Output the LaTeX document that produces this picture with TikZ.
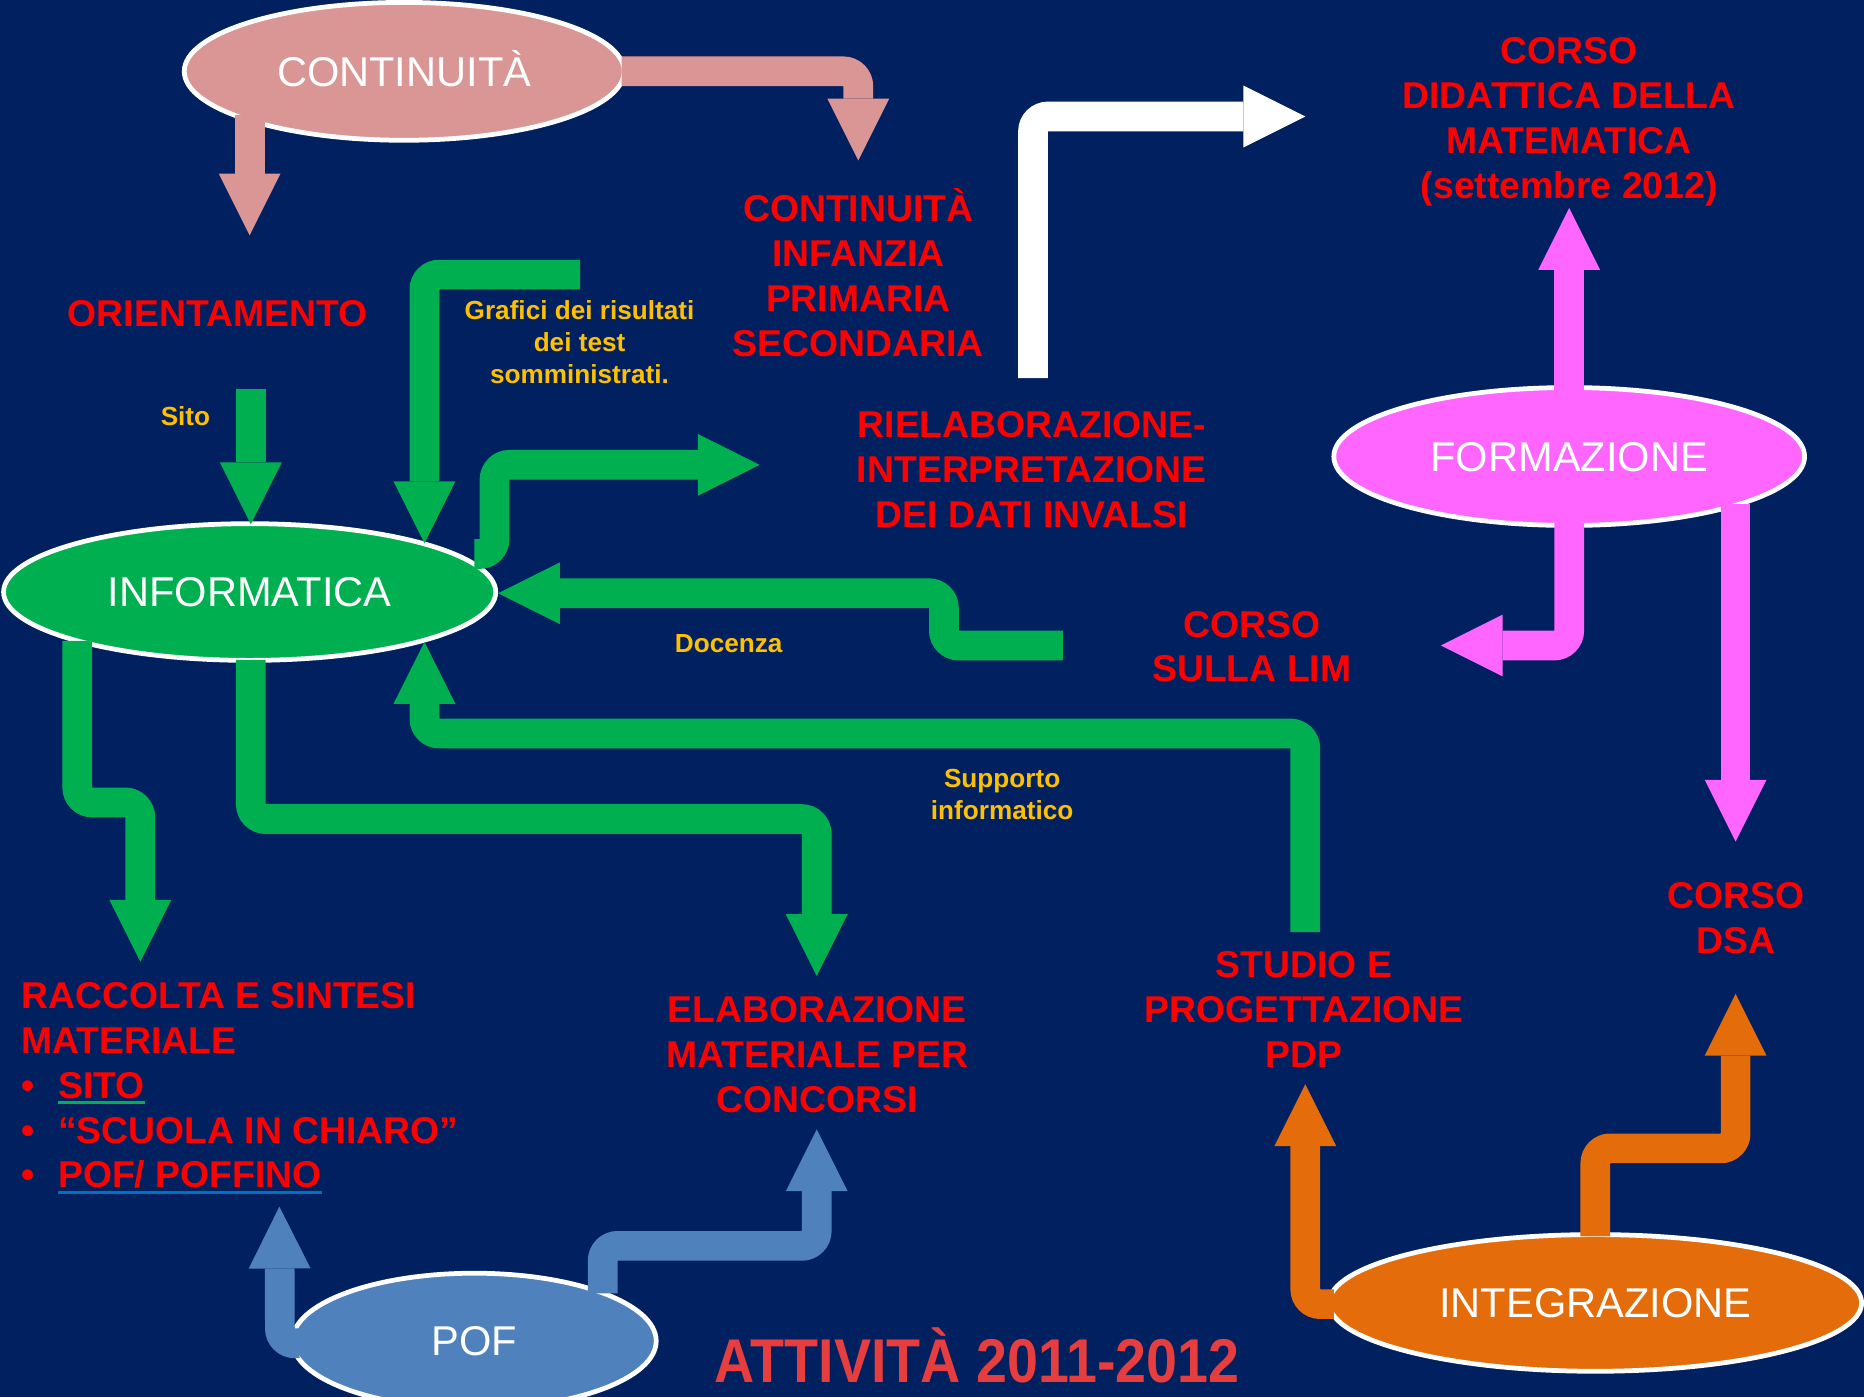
\documentclass[tikz,border=0pt]{standalone}
\usepackage{fontspec}
\setmainfont{Liberation Sans}
\usetikzlibrary{arrows.meta,shapes.geometric}
\definecolor{bg}{RGB}{0,32,96}
\definecolor{tred}{RGB}{255,0,0}
\definecolor{tyel}{RGB}{255,192,0}
\definecolor{cgreen}{RGB}{0,176,80}
\definecolor{cpink}{RGB}{217,150,148}
\definecolor{cmag}{RGB}{255,102,255}
\definecolor{cblue}{RGB}{79,129,189}
\definecolor{corange}{RGB}{228,108,10}
\definecolor{culblue}{RGB}{0,112,192}
\definecolor{ttlred}{RGB}{230,62,62}
\newcommand\myul[2]{\setbox0\hbox{#2}\rlap{\color{#1}\rule[-2.6pt]{\wd0}{1.5pt}}\box0}
\newcommand\mybullet{\makebox[15.5pt][l]{\hspace{0.3pt}\textbullet}}
\begin{document}
\begin{tikzpicture}[x=0.5pt,y=-0.5pt,
  >={Triangle[width=26pt,length=26pt,line width=0pt]},
  redtxt/.style={text=tred, font=\fontsize{15.7}{18.85}\selectfont\bfseries, align=center, inner sep=0pt},
  yeltxt/.style={text=tyel, font=\fontsize{11}{13.5}\selectfont\bfseries, align=center, inner sep=0pt},
  oval/.style={ellipse, draw=white, line width=2pt, inner sep=0pt, text=white, text height=12.5pt, text depth=0pt, font=\fontsize{17.5}{21}\selectfont},
  band/.style={line width=12.5pt, rounded corners=6.25pt, ->},
]
\useasboundingbox (0,0) rectangle (1568,1175);
\fill[bg] (0,0) rectangle (1568,1175);
\clip (0,0) rectangle (1568,1175);

% ellipses
\node[oval, fill=cpink, minimum width=185pt, minimum height=58pt] (cont) at (340,60) {CONTINUITÀ};
\node[oval, fill=cmag, minimum width=198pt, minimum height=58pt] (form) at (1320,384) {FORMAZIONE};
\node[oval, fill=cgreen, minimum width=207pt, minimum height=57.5pt] (info) at (210,498) {INFORMATICA};
\node[oval, fill=cblue, minimum width=153pt, minimum height=57pt] (pof) at (399,1128) {POF};
\node[oval, fill=corange, minimum width=224pt, minimum height=57.5pt] (integ) at (1342,1096) {INTEGRAZIONE};

% red texts
\node[redtxt] (orient) at (183,264) {ORIENTAMENTO};
\node[redtxt] (conti) at (722,229.5) {CONTINUITÀ\\INFANZIA\\PRIMARIA\\SECONDARIA};
\node[redtxt] (rielab) at (868,395) {RIELABORAZIONE-\\INTERPRETAZIONE\\DEI DATI INVALSI};
\node[redtxt] (didmat) at (1320,102.5) {CORSO\\DIDATTICA DELLA\\MATEMATICA\\(settembre 2012)};
\node[redtxt] (lim) at (1053,544) {CORSO\\SULLA LIM};
\node[redtxt] (dsa) at (1460,772) {CORSO\\DSA};
\node[redtxt] (pdp) at (1097,849) {STUDIO E\\PROGETTAZIONE\\PDP};
\node[redtxt] (elab) at (687.5,887) {ELABORAZIONE\\MATERIALE PER\\CONCORSI};
\node[redtxt, align=left, anchor=west] (racc) at (17.5,915.5) {RACCOLTA E SINTESI\\MATERIALE\\\mybullet\myul{cgreen}{SITO}\\\mybullet“SCUOLA IN CHIARO”\\\mybullet\myul{culblue}{POF/ POFFINO}};

% yellow labels
\node[yeltxt] (sito) at (156,350) {Sito};
\node[yeltxt] (grafici) at (487.5,287.5) {Grafici dei risultati\\dei test\\somministrati.};
\node[yeltxt] (docenza) at (613,541) {Docenza};
\node[yeltxt] (supporto) at (843,668) {Supporto\\informatico};

% title
\node[text=ttlred, font=\fontsize{26}{30}\selectfont\bfseries] (title) at (822,1140) {\scalebox{0.9}[1]{ATTIVITÀ 2011-2012}};

% arrow end points
\coordinate (tOrient) at (210,198);
\coordinate (tConti) at (722,135);
\coordinate (tInfoTop) at (211,441);
\coordinate (tGraf) at (357,457);
\coordinate (tRielab) at (639,391);
\coordinate (tDoc) at (419,499);
\coordinate (tSupp) at (357,540);
\coordinate (tRacc) at (118,809);
\coordinate (tElab) at (687,821);
\coordinate (tDid) at (1098,98);
\coordinate (tForm) at (1320,175);
\coordinate (tLim) at (1212,543);
\coordinate (tDsa) at (1460,708);
\coordinate (tPofL) at (235,1015);
\coordinate (tPofR) at (687,950);
\coordinate (tPdp) at (1098,912);
\coordinate (tDsa2) at (1460,836);

% pink arrows
\draw[band, cpink] (210,97) -- (tOrient);
\draw[band, cpink] (523,60) -- (722,60) -- (tConti);

% green arrows
\draw[band, cgreen] (211,327) -- (tInfoTop);
\draw[band, cgreen] (488,231) -- (357,231) -- (tGraf);
\draw[band, cgreen] (399,466) -- (416,466) -- (416,391) -- (tRielab);
\draw[band, cgreen] (894,543) -- (794,543) -- (794,499) -- (tDoc);
\draw[band, cgreen] (1098,784) -- (1098,617) -- (357,617) -- (tSupp);
\draw[band, cgreen] (65,539) -- (65,675) -- (118,675) -- (tRacc);
\draw[band, cgreen] (211,555) -- (211,689) -- (687,689) -- (tElab);

% white arrow
\draw[band, white] (869,318) -- (869,98) -- (tDid);

% magenta arrows
\draw[band, cmag] (1320,329) -- (tForm);
\draw[band, cmag] (1320,440) -- (1320,543) -- (tLim);
\draw[band, cmag] (1460,424) -- (tDsa);

% blue arrows
\draw[band, cblue] (252,1130) -- (235.5,1130) -- (tPofL);
\draw[band, cblue] (507,1088) -- (507,1048) -- (687,1048) -- (tPofR);

% orange arrows
\draw[band, corange] (1122,1097) -- (1098,1097) -- (tPdp);
\draw[band, corange] (1342,1040) -- (1342,966) -- (1460,966) -- (tDsa2);
\end{tikzpicture}
\end{document}
